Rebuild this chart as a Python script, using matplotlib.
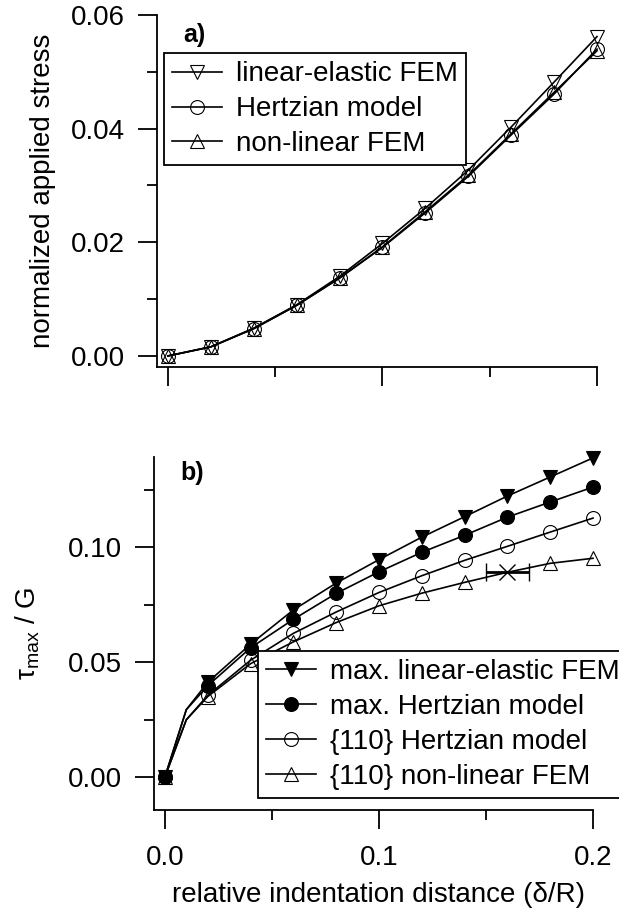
import numpy as np
import matplotlib
matplotlib.use('Agg')
import matplotlib.pyplot as plt
from matplotlib.ticker import MultipleLocator, FormatStrFormatter

plt.rcParams['font.family'] = ['Liberation Sans', 'DejaVu Sans']
plt.rcParams['mathtext.fontset'] = 'custom'
plt.rcParams['mathtext.rm'] = 'Liberation Sans'
plt.rcParams['mathtext.it'] = 'Liberation Sans:italic'

# panel a) normalized applied stress
x_a = [0.0, 0.02, 0.04, 0.06, 0.08, 0.10, 0.12, 0.14, 0.16, 0.18, 0.20]
stress_lin_fem = [0.0, 0.0016, 0.0049, 0.0090, 0.0140, 0.0198, 0.0260, 0.0327, 0.0403, 0.0482, 0.0562]
stress_hertz = [0.0, 0.0016, 0.0048, 0.0089, 0.0137, 0.0191, 0.0252, 0.0316, 0.0389, 0.0461, 0.0540]
stress_nonlin_fem = [0.0, 0.0016, 0.0048, 0.0089, 0.0137, 0.0192, 0.0254, 0.0318, 0.0391, 0.0464, 0.0537]

# panel b) max shear stress, first point after 0 is the line kink at 0.01 (no marker)
x_b = [0.0, 0.01, 0.02, 0.04, 0.06, 0.08, 0.10, 0.12, 0.14, 0.16, 0.18, 0.20]
tau_max_lin_fem = [0.0, 0.0293, 0.0412, 0.0578, 0.0727, 0.0844, 0.0946, 0.1044, 0.1133, 0.1223, 0.1306, 0.1389]
tau_max_hertz = [0.0, 0.0293, 0.0397, 0.0562, 0.0686, 0.0799, 0.0893, 0.0978, 0.1052, 0.1131, 0.1197, 0.1262]
tau_110_hertz = [0.0, 0.0249, 0.0355, 0.0508, 0.0625, 0.0718, 0.0803, 0.0876, 0.0943, 0.1004, 0.1066, 0.1127]
tau_110_nonlin_fem = [0.0, 0.0249, 0.0350, 0.0493, 0.0588, 0.0672, 0.0745, 0.0800, 0.0847, 0.0891, 0.0930, 0.0952]
# highlighted point with horizontal error bar
x_marked = [0.16]
tau_marked = [0.0891]
x_marked_err = [0.01]

FS = 20
LW = 1.2

fig = plt.figure(figsize=(6.19, 9.14), dpi=100)
ax1 = fig.add_axes([0.2536, 0.5985, 0.7109, 0.3851])
ax2 = fig.add_axes([0.2488, 0.1138, 0.7092, 0.3862])

for ax in (ax1, ax2):
    ax.spines['top'].set_visible(False)
    ax.spines['right'].set_visible(False)
    ax.spines['left'].set_linewidth(1.3)
    ax.spines['bottom'].set_linewidth(1.3)
    ax.xaxis.set_major_locator(MultipleLocator(0.1))
    ax.xaxis.set_minor_locator(MultipleLocator(0.05))
    ax.tick_params(which='major', direction='out', length=14, width=1.3, labelsize=FS)
    ax.tick_params(which='minor', direction='out', length=7, width=1.3)
    ax.tick_params(axis='y', pad=9)
    ax.tick_params(axis='x', pad=11)
    ax.set_xlim(-0.0051, 0.2)

# panel a
kw = dict(color='k', lw=LW, ms=10, mfc='none', mew=0.8, clip_on=False)
ax1.plot(x_a, stress_lin_fem, marker='v', label='linear-elastic FEM', **kw)
ax1.plot(x_a, stress_hertz, marker='o', label='Hertzian model', **kw)
ax1.plot(x_a, stress_nonlin_fem, marker='^', label='non-linear FEM', **kw)
ax1.set_ylim(-0.00194, 0.06)
ax1.yaxis.set_major_locator(MultipleLocator(0.02))
ax1.yaxis.set_minor_locator(MultipleLocator(0.01))
ax1.yaxis.set_major_formatter(FormatStrFormatter('%.2f'))
ax1.tick_params(axis='x', labelbottom=False)
ax1.set_ylabel('normalized applied stress', fontsize=FS)
ax1.yaxis.set_label_coords(-0.23, 0.5)
ax1.text(0.059, 0.943, 'a)', transform=ax1.transAxes, fontsize=FS - 2,
         fontweight='bold', ha='left', va='center')
leg1 = ax1.legend(loc='upper left', bbox_to_anchor=(0.016, 0.892), fontsize=FS,
                  frameon=True, fancybox=False, framealpha=1, edgecolor='k',
                  handlelength=1.8, handletextpad=0.5, labelspacing=0.32,
                  borderpad=0.3, borderaxespad=0)
leg1.get_frame().set_linewidth(1.3)

# panel b
mark_idx = [0, 2, 3, 4, 5, 6, 7, 8, 9, 10, 11]
mark_idx_nl = [0, 2, 3, 4, 5, 6, 7, 8, 10, 11]
ax2.plot(x_b, tau_110_nonlin_fem, color='k', lw=LW, marker='^', ms=10, mfc='none', mew=0.8,
         markevery=mark_idx_nl, label='{110} non-linear FEM', zorder=3, clip_on=False)
ax2.plot(x_b, tau_110_hertz, color='k', lw=LW, marker='o', ms=10, mfc='none', mew=0.8,
         markevery=mark_idx, label='{110} Hertzian model', zorder=4, clip_on=False)
ax2.plot(x_b, tau_max_hertz, color='k', lw=LW, marker='o', ms=10, mfc='k', mew=0.8,
         markevery=mark_idx, label='max. Hertzian model', zorder=6, clip_on=False)
ax2.plot(x_b, tau_max_lin_fem, color='k', lw=LW, marker='v', ms=10, mfc='k', mew=0.8,
         markevery=mark_idx, label='max. linear-elastic FEM', zorder=5, clip_on=False)
ax2.errorbar(x_marked, tau_marked, xerr=x_marked_err, fmt='x', color='k', ms=11, mew=1.0,
             elinewidth=2.0, capsize=6.5, capthick=2.0, zorder=7)
ax2.set_ylim(-0.0144, 0.1393)
ax2.yaxis.set_major_locator(MultipleLocator(0.05))
ax2.yaxis.set_minor_locator(MultipleLocator(0.025))
ax2.yaxis.set_major_formatter(FormatStrFormatter('%.2f'))
ax2.xaxis.set_major_formatter(FormatStrFormatter('%.1f'))
ax2.set_ylabel(r'$\mathregular{\tau_{max}}$ / G', fontsize=FS)
ax2.yaxis.set_label_coords(-0.255, 0.5)
ax2.set_xlabel('relative indentation distance (δ/R)', fontsize=FS)
ax2.xaxis.set_label_coords(0.511, -0.205)
ax2.text(0.059, 0.955, 'b)', transform=ax2.transAxes, fontsize=FS - 2,
         fontweight='bold', ha='left', va='center')
handles, labels = ax2.get_legend_handles_labels()
order = [3, 2, 1, 0]
leg2 = ax2.legend([handles[i] for i in order], [labels[i] for i in order],
                  loc='lower left', bbox_to_anchor=(0.237, 0.034), fontsize=FS,
                  frameon=True, fancybox=False, framealpha=1, edgecolor='k',
                  handlelength=1.8, handletextpad=0.5, labelspacing=0.32,
                  borderpad=0.3, borderaxespad=0)
leg2.get_frame().set_linewidth(1.3)
leg2.set_zorder(10)

fig.savefig('out.png', dpi=100)
